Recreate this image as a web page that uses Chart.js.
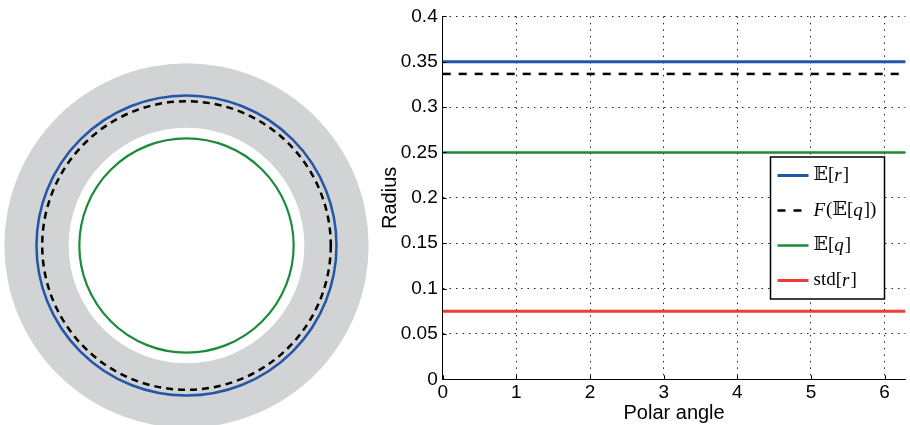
<!DOCTYPE html>
<html>
<head>
<meta charset="utf-8">
<script src="https://cdn.jsdelivr.net/npm/chart.js@4.4.1/dist/chart.umd.min.js"></script>
<style>
  body { margin: 0; background: #fff; }
  #grafico-circulo { position: absolute; left: 0; top: 0; }
  #grafico-raio { position: absolute; left: 375px; top: 0; }
</style>
</head>
<body>
<canvas id="grafico-circulo" width="375" height="425"></canvas>
<canvas id="grafico-raio" width="535" height="425"></canvas>
<script>
// Dados (raio em funcao do angulo polar)
const angulos = [0, 6.2832];
const mediaR = [0.35, 0.35];
const fMediaQ = [0.3366, 0.3366];
const mediaQ = [0.25, 0.25];
const desvioR = [0.075, 0.075];

const rotulos = ['𝔼[r]', 'F(𝔼[q])', '𝔼[q]', 'std[r]'];
const ticksX = [0, 1, 2, 3, 4, 5, 6];
const ticksY = [0, 0.05, 0.1, 0.15, 0.2, 0.25, 0.3, 0.35, 0.4];
const rotulosY = ['0', '0.05', '0.1', '0.15', '0.2', '0.25', '0.3', '0.35', '0.4'];

// Cores
const AZUL = '#2356a6';
const PRETO = '#000000';
const VERDE = '#1b8a3b';
const VERMELHO = '#f03b3b';
const CINZA = '#d1d3d4';

const FONTE = "'Liberation Sans', Arial, sans-serif";

// Circulo da esquerda: faixa media +- desvio e os tres raios
const aneis = {
  id: 'aneis',
  beforeDatasetsDraw(chart) {
    const { ctx, scales: { x, y } } = chart;
    const cx = x.getPixelForValue(0);
    const cy = y.getPixelForValue(0);
    const px = r => x.getPixelForValue(r) - cx;

    ctx.save();
    ctx.beginPath();
    ctx.arc(cx, cy, px(mediaR[0] + desvioR[0]), 0, 2 * Math.PI);
    ctx.moveTo(cx + px(mediaR[0] - desvioR[0]), cy);
    ctx.arc(cx, cy, px(mediaR[0] - desvioR[0]), 0, 2 * Math.PI);
    ctx.fillStyle = CINZA;
    ctx.fill('evenodd');

    const circulos = [
      { r: mediaR[0], cor: AZUL, dash: [], w: 2.5 },
      { r: fMediaQ[0], cor: PRETO, dash: [7, 5], w: 2.5 },
      { r: mediaQ[0], cor: VERDE, dash: [], w: 2.2 }
    ];
    circulos.forEach(c => {
      ctx.beginPath();
      ctx.setLineDash(c.dash);
      ctx.lineWidth = c.w;
      ctx.strokeStyle = c.cor;
      ctx.arc(cx, cy, px(c.r), 0, 2 * Math.PI);
      ctx.stroke();
    });
    ctx.restore();
  }
};

new Chart(document.getElementById('grafico-circulo'), {
  type: 'scatter',
  data: { datasets: [] },
  options: {
    responsive: false,
    animation: false,
    plugins: { legend: { display: false }, tooltip: { enabled: false } },
    scales: {
      x: { display: false, min: -0.4351, max: 0.4398 },
      y: { display: false, min: -0.4188, max: 0.5728 }
    }
  },
  plugins: [aneis]
});

// Marcas de tick para dentro (estilo MATLAB)
const ticksInternos = {
  id: 'ticksInternos',
  afterDraw(chart) {
    const { ctx, chartArea, scales: { x, y } } = chart;
    ctx.save();
    ctx.strokeStyle = PRETO;
    ctx.lineWidth = 1;
    ctx.beginPath();
    ticksY.forEach(v => {
      const py = Math.round(y.getPixelForValue(v)) + 0.5;
      ctx.moveTo(chartArea.left, py);
      ctx.lineTo(chartArea.left + 4, py);
    });
    ticksX.forEach(v => {
      const pxl = Math.round(x.getPixelForValue(v)) + 0.5;
      ctx.moveTo(pxl, chartArea.bottom);
      ctx.lineTo(pxl, chartArea.bottom - 4);
    });
    ctx.stroke();
    ctx.restore();
  }
};

// Texto com letras de variavel em italico
function desenhaRotulo(ctx, texto, x, y) {
  const partes = texto.split(/(std|[A-Za-z])/).filter(p => p);
  let cx = x;
  partes.forEach(p => {
    const italico = /^[A-Za-z]$/.test(p);
    ctx.font = (italico ? 'italic ' : '') + "19px 'Liberation Serif', 'DejaVu Serif', 'DejaVu Sans', serif";
    ctx.fillText(p, cx, y);
    cx += ctx.measureText(p).width + (italico ? 1 : 0);
  });
}

const legendaInterna = {
  id: 'legendaInterna',
  afterDatasetsDraw(chart) {
    const { ctx, chartArea } = chart;
    const w = 114, h = 142;
    const x0 = chartArea.right - 21 - w;
    const y0 = 157;
    ctx.save();
    ctx.fillStyle = '#ffffff';
    ctx.fillRect(x0, y0, w, h);
    ctx.strokeStyle = PRETO;
    ctx.lineWidth = 1.5;
    ctx.strokeRect(x0, y0, w, h);

    chart.data.datasets.forEach((ds, i) => {
      const yl = y0 + 18.5 + i * 35;
      ctx.beginPath();
      ctx.setLineDash(ds.borderDash || []);
      ctx.lineWidth = ds.borderWidth;
      ctx.strokeStyle = ds.borderColor;
      ctx.moveTo(x0 + 7, yl);
      ctx.lineTo(x0 + 38, yl);
      ctx.stroke();
      ctx.setLineDash([]);
      ctx.fillStyle = PRETO;
      ctx.textBaseline = 'middle';
      desenhaRotulo(ctx, ds.label, x0 + 43, yl);
    });
    ctx.restore();
  }
};

const serie = (label, dados, cor, extra) => Object.assign({
  label,
  data: angulos.map((a, i) => ({ x: a, y: dados[i] })),
  borderColor: cor,
  borderWidth: 3,
  pointRadius: 0,
  fill: false
}, extra);

new Chart(document.getElementById('grafico-raio'), {
  type: 'line',
  data: {
    datasets: [
      serie(rotulos[0], mediaR, AZUL),
      serie(rotulos[1], fMediaQ, PRETO, { borderDash: [8, 8], borderWidth: 2.5 }),
      serie(rotulos[2], mediaQ, VERDE, { borderWidth: 2.5 }),
      serie(rotulos[3], desvioR, VERMELHO)
    ]
  },
  options: {
    responsive: false,
    animation: false,
    layout: { padding: { top: 15, right: 4.5 } },
    plugins: { legend: { display: false }, tooltip: { enabled: false } },
    scales: {
      x: {
        type: 'linear',
        min: 0,
        max: angulos[angulos.length - 1],
        afterBuildTicks: s => { s.ticks = ticksX.map(v => ({ value: v })); },
        afterFit: s => { s.height = 45.7; },
        ticks: { color: PRETO, font: { family: FONTE, size: 19 }, padding: 2, callback: v => String(v), maxRotation: 0 },
        grid: { color: '#222', lineWidth: 1, drawTicks: false },
        border: { display: true, color: PRETO, width: 1, dash: [1.5, 5] },
        title: { display: true, text: 'Polar angle', color: PRETO, font: { family: FONTE, size: 20 }, padding: { top: 0, bottom: 0 } }
      },
      y: {
        min: 0,
        max: 0.4,
        afterBuildTicks: s => { s.ticks = ticksY.map(v => ({ value: v })); },
        afterFit: s => { s.width = 67.7; },
        ticks: { color: PRETO, font: { family: FONTE, size: 19 }, padding: 5, callback: (v, i) => rotulosY[i] },
        grid: { color: '#222', lineWidth: 1, drawTicks: false },
        border: { display: true, color: PRETO, width: 1, dash: [1.5, 5] },
        title: { display: true, text: 'Radius', color: PRETO, font: { family: FONTE, size: 20 }, padding: { top: 3, bottom: 0 } }
      }
    }
  },
  plugins: [legendaInterna, ticksInternos]
});
</script>
</body>
</html>
